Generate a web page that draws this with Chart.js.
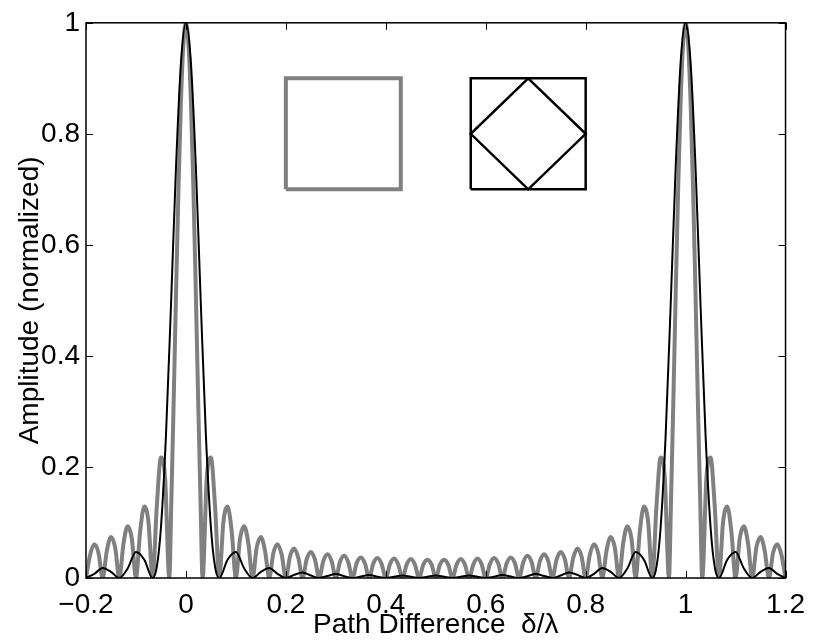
<!DOCTYPE html>
<html>
<head>
<meta charset="utf-8">
<script src="https://cdn.jsdelivr.net/npm/chart.js@4.4.0/dist/chart.umd.min.js"></script>
<style>
  body { margin: 0; background: #fff; }
  canvas { display: block; }
</style>
</head>
<body>
<canvas id="chart" width="815" height="642"></canvas>
<script>
// axis ticks
const xTicks = [-0.2, 0, 0.2, 0.4, 0.6, 0.8, 1, 1.2];
const xTickLabels = ["\u22120.2", "0", "0.2", "0.4", "0.6", "0.8", "1", "1.2"];
const yTicks = [0, 0.2, 0.4, 0.6, 0.8, 1];
const yTickLabels = ["0", "0.2", "0.4", "0.6", "0.8", "1"];

// gray curve (square aperture)
const grayX = [
    -0.2, -0.1917, -0.1833, -0.175,
    -0.1667, -0.1583, -0.15, -0.1417,
    -0.1333, -0.125, -0.1167, -0.1083,
    -0.1, -0.0917, -0.0833, -0.075,
    -0.0667, -0.0583, -0.05, -0.0417,
    -0.0333, -0.0292, -0.025, -0.02, -0.015, -0.01, -0.005, 0, 0.005, 0.01, 0.015, 0.02, 0.025, 0.0292,
    0.0333, 0.0417, 0.05, 0.0583,
    0.0667, 0.075, 0.0833, 0.0917,
    0.1, 0.1083, 0.1167, 0.125,
    0.1333, 0.1417, 0.15, 0.1583,
    0.1667, 0.175, 0.1833, 0.1917,
    0.2, 0.2083, 0.2167, 0.225,
    0.2333, 0.2417, 0.25, 0.2583,
    0.2667, 0.275, 0.2833, 0.2917,
    0.3, 0.3083, 0.3167, 0.325,
    0.3333, 0.3417, 0.35, 0.3583,
    0.3667, 0.375, 0.3833, 0.3917,
    0.4, 0.4083, 0.4167, 0.425,
    0.4333, 0.4417, 0.45, 0.4583,
    0.4667, 0.475, 0.4833, 0.4917,
    0.5, 0.5083, 0.5167, 0.525,
    0.5333, 0.5417, 0.55, 0.5583,
    0.5667, 0.575, 0.5833, 0.5917,
    0.6, 0.6083, 0.6167, 0.625,
    0.6333, 0.6417, 0.65, 0.6583,
    0.6667, 0.675, 0.6833, 0.6917,
    0.7, 0.7083, 0.7167, 0.725,
    0.7333, 0.7417, 0.75, 0.7583,
    0.7667, 0.775, 0.7833, 0.7917,
    0.8, 0.8083, 0.8167, 0.825,
    0.8333, 0.8417, 0.85, 0.8583,
    0.8667, 0.875, 0.8833, 0.8917,
    0.9, 0.9083, 0.9167, 0.925,
    0.9333, 0.9417, 0.95, 0.9583,
    0.9667, 0.9708, 0.975, 0.98, 0.985, 0.99, 0.995, 1, 1.005, 1.01, 1.015, 1.02, 1.025, 1.0292,
    1.0333, 1.0417, 1.05, 1.0583,
    1.0667, 1.075, 1.0833, 1.0917,
    1.1, 1.1083, 1.1167, 1.125,
    1.1333, 1.1417, 1.15, 1.1583,
    1.1667, 1.175, 1.1833, 1.1917,
    1.2
];
const grayY = [
    0, 0.042, 0.061, 0.045,
    0, 0.049, 0.074, 0.055,
    0, 0.062, 0.093, 0.071,
    0, 0.083, 0.129, 0.101,
    0, 0.129, 0.217, 0.181,
    0, 0.139, 0.30, 0.505, 0.699, 0.858, 0.963, 1, 0.963, 0.858, 0.699, 0.505, 0.30, 0.139,
    0, 0.181, 0.217, 0.129,
    0, 0.101, 0.129, 0.083,
    0, 0.071, 0.093, 0.062,
    0, 0.055, 0.074, 0.049,
    0, 0.045, 0.061, 0.042,
    0, 0.039, 0.053, 0.036,
    0, 0.034, 0.047, 0.033,
    0, 0.031, 0.043, 0.030,
    0, 0.029, 0.040, 0.028,
    0, 0.027, 0.037, 0.026,
    0, 0.026, 0.036, 0.025,
    0, 0.025, 0.035, 0.024,
    0, 0.024, 0.034, 0.024,
    0, 0.024, 0.033, 0.024,
    0, 0.024, 0.033, 0.024,
    0, 0.024, 0.034, 0.024,
    0, 0.024, 0.035, 0.025,
    0, 0.025, 0.036, 0.026,
    0, 0.026, 0.037, 0.027,
    0, 0.028, 0.040, 0.029,
    0, 0.030, 0.043, 0.031,
    0, 0.033, 0.047, 0.034,
    0, 0.036, 0.053, 0.039,
    0, 0.042, 0.061, 0.045,
    0, 0.049, 0.074, 0.055,
    0, 0.062, 0.093, 0.071,
    0, 0.083, 0.129, 0.101,
    0, 0.129, 0.217, 0.181,
    0, 0.139, 0.30, 0.505, 0.699, 0.858, 0.963, 1, 0.963, 0.858, 0.699, 0.505, 0.30, 0.139,
    0, 0.181, 0.217, 0.129,
    0, 0.101, 0.129, 0.083,
    0, 0.071, 0.093, 0.062,
    0, 0.055, 0.074, 0.049,
    0, 0.045, 0.061, 0.042,
    0
];

// black curve (square + diamond aperture)
const blackX = [
    -0.2, -0.1833, -0.1667, -0.15,
    -0.1333, -0.1167, -0.1, -0.0833,
    -0.0667, -0.0583, -0.05, -0.04, -0.03, -0.02, -0.01, 0, 0.01, 0.02, 0.03, 0.04, 0.05, 0.0583,
    0.0667, 0.0833, 0.1, 0.1167,
    0.1333, 0.15, 0.1667, 0.1833,
    0.2, 0.2167, 0.2333, 0.25,
    0.2667, 0.2833, 0.3, 0.3167,
    0.3333, 0.35, 0.3667, 0.3833,
    0.4, 0.4167, 0.4333, 0.45,
    0.4667, 0.4833, 0.5, 0.5167,
    0.5333, 0.55, 0.5667, 0.5833,
    0.6, 0.6167, 0.6333, 0.65,
    0.6667, 0.6833, 0.7, 0.7167,
    0.7333, 0.75, 0.7667, 0.7833,
    0.8, 0.8167, 0.8333, 0.85,
    0.8667, 0.8833, 0.9, 0.9167,
    0.9333, 0.9417, 0.95, 0.96, 0.97, 0.98, 0.99, 1, 1.01, 1.02, 1.03, 1.04, 1.05, 1.0583,
    1.0667, 1.0833, 1.1, 1.1167,
    1.1333, 1.15, 1.1667, 1.1833,
    1.2
];
const blackY = [
    0, 0.0075, 0.018, 0.011,
    0, 0.017, 0.047, 0.033,
    0, 0.02, 0.091, 0.256, 0.489, 0.737, 0.928, 1, 0.928, 0.737, 0.489, 0.256, 0.091, 0.02,
    0, 0.033, 0.047, 0.017,
    0, 0.011, 0.018, 0.0075,
    0, 0.0056, 0.010, 0.0044,
    0, 0.0037, 0.007, 0.0032,
    0, 0.0028, 0.0053, 0.0025,
    0, 0.0024, 0.0047, 0.0023,
    0, 0.0022, 0.0044, 0.0022,
    0, 0.0023, 0.0047, 0.0024,
    0, 0.0025, 0.0053, 0.0028,
    0, 0.0032, 0.007, 0.0037,
    0, 0.0044, 0.010, 0.0056,
    0, 0.0075, 0.018, 0.011,
    0, 0.017, 0.047, 0.033,
    0, 0.02, 0.091, 0.256, 0.489, 0.737, 0.928, 1, 0.928, 0.737, 0.489, 0.256, 0.091, 0.02,
    0, 0.033, 0.047, 0.017,
    0, 0.011, 0.018, 0.0075,
    0
];

// inset sketches of the two apertures, in data units
const graySquareX = [0.2, 0.43, 0.43, 0.2, 0.2];
const graySquareY = [0.7, 0.7, 0.9, 0.9, 0.7];
const blackSquareX = [0.57, 0.8, 0.8, 0.57, 0.57];
const blackSquareY = [0.7, 0.7, 0.9, 0.9, 0.7];
const diamondX = [0.685, 0.8, 0.685, 0.57, 0.685];
const diamondY = [0.9, 0.8, 0.7, 0.8, 0.9];

const GRAY = "#808080";

function toPoints(xs, ys) {
    return xs.map((x, i) => ({ x: x, y: ys[i] }));
}

// box round the plot with inward ticks on all four sides
const framePlugin = {
    id: "frame",
    afterDatasetsDraw(chart) {
        const { ctx, chartArea: a, scales } = chart;
        const len = 7;
        ctx.save();
        ctx.strokeStyle = "#000";
        ctx.lineWidth = 1;
        ctx.beginPath();
        xTicks.forEach(v => {
            const px = Math.round(scales.x.getPixelForValue(v)) + 0.5;
            ctx.moveTo(px, a.bottom);
            ctx.lineTo(px, a.bottom - len);
            ctx.moveTo(px, a.top);
            ctx.lineTo(px, a.top + len);
        });
        yTicks.forEach(v => {
            const py = Math.round(scales.y.getPixelForValue(v)) + 0.5;
            ctx.moveTo(a.left, py);
            ctx.lineTo(a.left + len, py);
            ctx.moveTo(a.right, py);
            ctx.lineTo(a.right - len, py);
        });
        ctx.stroke();
        ctx.lineWidth = 1.5;
        ctx.strokeRect(a.left, a.top, a.right - a.left, a.bottom - a.top);
        ctx.restore();
    },
};

Chart.defaults.font.family = "'Liberation Sans', Arial, Helvetica, sans-serif";
Chart.defaults.font.size = 28;
Chart.defaults.color = "#000";

new Chart(document.getElementById("chart"), {
    type: "line",
    data: {
        datasets: [
            {
                data: toPoints(blackX, blackY),
                borderColor: "#000",
                borderWidth: 2,
                cubicInterpolationMode: "monotone",
                order: 0,
            },
            {
                data: toPoints(grayX, grayY),
                borderColor: GRAY,
                borderWidth: 4,
                cubicInterpolationMode: "monotone",
                order: 1,
            },
            {
                data: toPoints(graySquareX, graySquareY),
                borderColor: GRAY,
                borderWidth: 4,
                tension: 0,
                order: 1,
            },
            {
                data: toPoints(blackSquareX, blackSquareY),
                borderColor: "#000",
                borderWidth: 2.5,
                tension: 0,
                order: 0,
            },
            {
                data: toPoints(diamondX, diamondY),
                borderColor: "#000",
                borderWidth: 2.5,
                tension: 0,
                order: 0,
            },
        ],
    },
    options: {
        responsive: false,
        animation: false,
        devicePixelRatio: 1,
        layout: {
            padding: { top: 20, right: 21, left: 0, bottom: 0 },
        },
        elements: {
            point: { radius: 0 },
            line: { fill: false, borderJoinStyle: "miter" },
        },
        plugins: {
            legend: { display: false },
            tooltip: { enabled: false },
        },
        scales: {
            x: {
                type: "linear",
                min: -0.2,
                max: 1.2,
                grid: { display: false, drawTicks: false },
                border: { display: false },
                afterBuildTicks: scale => {
                    scale.ticks = xTicks.map(v => ({ value: v }));
                },
                afterFit: scale => {
                    scale.height = 64;
                },
                ticks: {
                    padding: 10,
                    maxRotation: 0,
                    autoSkip: false,
                    callback: (value, index) => xTickLabels[index],
                },
                title: {
                    display: true,
                    text: "Path Difference  \u03b4/\u03bb",
                    padding: { top: 0, bottom: 0 },
                },
            },
            y: {
                min: 0,
                max: 1,
                grid: { display: false, drawTicks: false },
                border: { display: false },
                afterBuildTicks: scale => {
                    scale.ticks = yTicks.map(v => ({ value: v }));
                },
                afterFit: scale => {
                    scale.width = 86;
                },
                ticks: {
                    padding: 6,
                    autoSkip: false,
                    callback: (value, index) => yTickLabels[index],
                },
                title: {
                    display: true,
                    text: "Amplitude (normalized)",
                    padding: { top: 13, bottom: 0 },
                },
            },
        },
    },
    plugins: [framePlugin],
});
</script>
</body>
</html>
